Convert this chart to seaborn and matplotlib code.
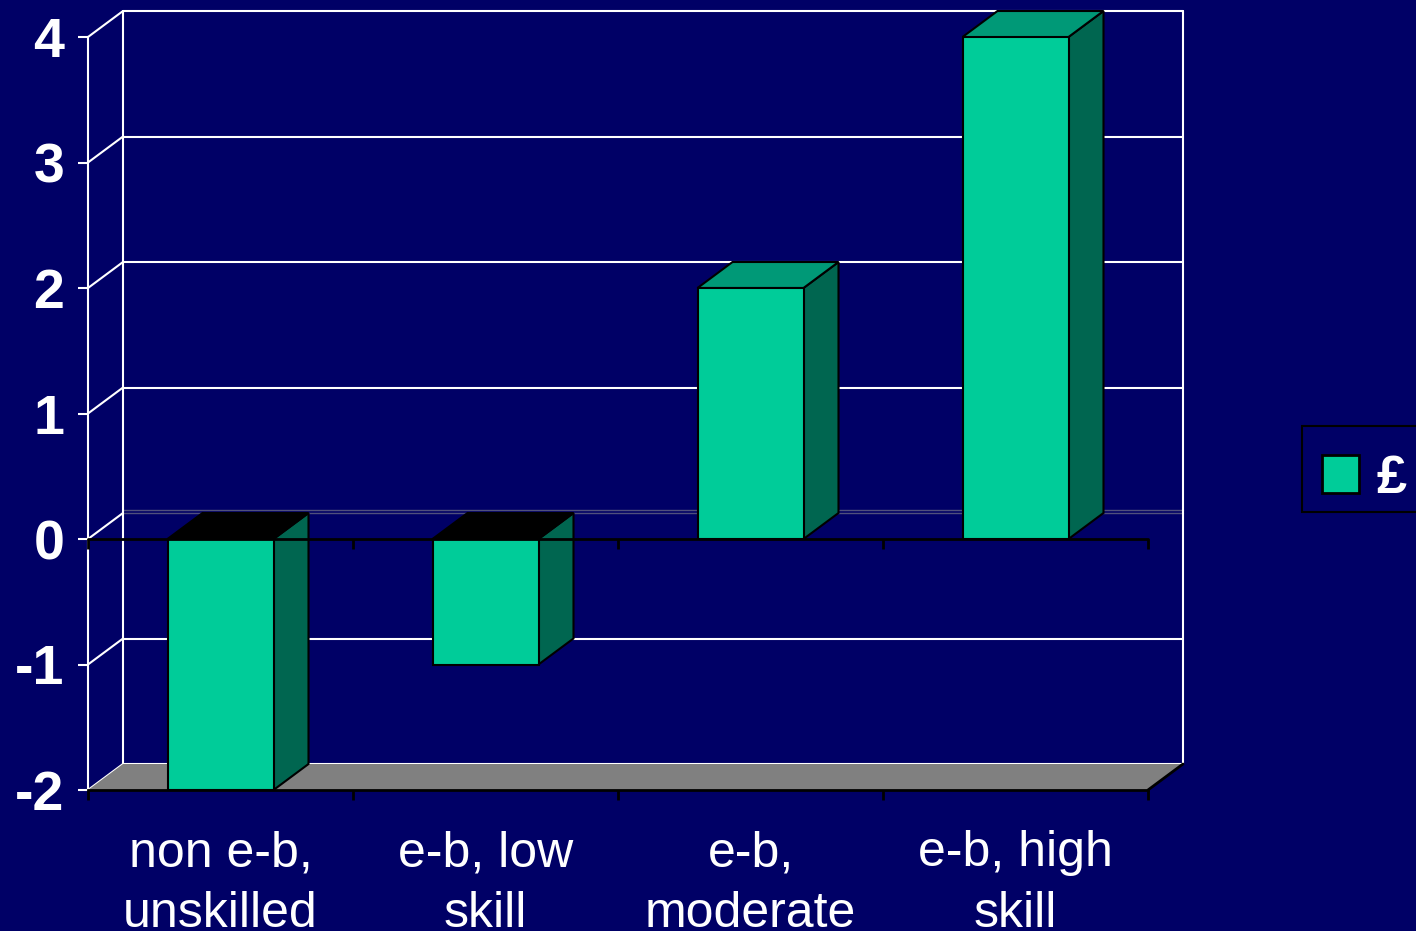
import matplotlib
matplotlib.use("Agg")
import matplotlib.pyplot as plt
import seaborn as sns
import pandas as pd
from matplotlib.patches import Polygon, Patch, Rectangle

# Data
categories = ["non e-b,\nunskilled", "e-b, low\nskill", "e-b,\nmoderate", "e-b, high\nskill"]
values = [-2, -1, 2, 4]
series_name = "£"
y_ticks = [-2, -1, 0, 1, 2, 3, 4]

# Colours
BG = "#000066"
FRONT = "#00CC99"
SIDE = "#006650"
TOP = "#009977"
FLOOR = "#808080"
ZERO_BACK = "#50507c"

sns.set_theme(style="white")
plt.rcParams["font.family"] = ["Liberation Sans", "DejaVu Sans"]

W, H, DPI = 1416, 931, 100
fig = plt.figure(figsize=(W / DPI, H / DPI), dpi=DPI, facecolor=BG)
ax = fig.add_axes([88 / W, (H - 790) / H, (1148 - 88) / W, (790 - 37) / H])
ax.patch.set_visible(False)

df = pd.DataFrame({"category": categories, "value": values})
sns.barplot(data=df, x="category", y="value", color=FRONT, saturation=1,
            width=0.4, edgecolor="black", linewidth=1.5, ax=ax, zorder=3)

xmin, xmax = -0.5, len(categories) - 0.5
ymin, ymax = min(y_ticks), max(y_ticks)
ax.set_xlim(xmin, xmax)
ax.set_ylim(ymin, ymax)

# depth offset of the 3-D box (data units)
DX = 35 / ((1148 - 88) / len(categories))
DY = 26 / ((790 - 37) / (ymax - ymin))

# back wall and left wall gridlines
for y in y_ticks:
    ax.plot([xmin, xmin + DX], [y, y + DY], color="white", lw=1.5,
            clip_on=False, zorder=0.5)
    if y == 0:
        for off in (0.0, 0.024):
            ax.plot([xmin + DX, xmax + DX], [y + DY + off, y + DY + off],
                    color=ZERO_BACK, lw=1.0, clip_on=False, zorder=0.5)
    else:
        ax.plot([xmin + DX, xmax + DX], [y + DY, y + DY], color="white",
                lw=1.5, clip_on=False, zorder=0.5)
for xv in (xmin + DX, xmax + DX):
    ax.plot([xv, xv], [ymin + DY, ymax + DY], color="white", lw=1.5,
            clip_on=False, zorder=0.5)

# floor
floor = Polygon([(xmin, ymin), (xmax, ymin), (xmax + DX, ymin + DY), (xmin + DX, ymin + DY)],
                closed=True, facecolor=FLOOR, edgecolor="none", zorder=1, clip_on=False)
ax.add_patch(floor)
ax.plot([xmax, xmax + DX], [ymin, ymin + DY], color="black", lw=2, clip_on=False, zorder=1.5)

# 3-D faces of each bar
for rect, v in zip(ax.patches[:len(values)], values):
    x0 = rect.get_x()
    x1 = x0 + rect.get_width()
    yb = min(rect.get_y(), rect.get_y() + rect.get_height())
    yt = max(rect.get_y(), rect.get_y() + rect.get_height())
    top_col = TOP if v > 0 else "black"
    side = Polygon([(x1, yb), (x1, yt), (x1 + DX, yt + DY), (x1 + DX, yb + DY)],
                   closed=True, facecolor=SIDE, edgecolor="black", lw=1.5,
                   zorder=3, clip_on=False, joinstyle="miter")
    top = Polygon([(x0, yt), (x1, yt), (x1 + DX, yt + DY), (x0 + DX, yt + DY)],
                  closed=True, facecolor=top_col, edgecolor="black", lw=1.5,
                  zorder=3, clip_on=False, joinstyle="miter")
    ax.add_patch(side)
    ax.add_patch(top)
    rect.set_zorder(3.2)

# zero line with its category-boundary ticks
bounds = [i - 0.5 for i in range(len(categories) + 1)]
ax.plot([xmin, xmax], [0, 0], color="black", lw=2, zorder=4, clip_on=False)
ax.vlines(bounds, 0, -0.08, color="black", lw=2, zorder=4, clip_on=False)

# spines
for s in ("top", "right"):
    ax.spines[s].set_visible(False)
ax.spines["left"].set_color("white")
ax.spines["left"].set_linewidth(1.5)
ax.spines["left"].set_zorder(0.6)
ax.spines["bottom"].set_color("black")
ax.spines["bottom"].set_linewidth(2)
ax.spines["bottom"].set_zorder(1.6)

# ticks
ax.set_yticks(y_ticks)
ax.set_yticklabels([str(t) for t in y_ticks], fontsize=40, fontweight="bold", color="white")
ax.tick_params(axis="y", which="major", left=True, direction="out", length=7,
               width=1.5, color="white", pad=10)
ax.set_xticks(range(len(categories)))
ax.set_xticklabels(categories, fontsize=36, color="white", linespacing=1.42)
ax.set_xticks(bounds, minor=True)
ax.tick_params(axis="x", which="major", bottom=True, length=0, pad=29)
ax.tick_params(axis="x", which="minor", bottom=True, direction="out", length=7,
               width=2, color="black")
ax.set_xlabel("")
ax.set_ylabel("")

# legend: frame drawn as a figure rectangle, entries placed inside it
frame = Rectangle((1302 / W, 1 - 512 / H), (W + 20 - 1302) / W, 86 / H,
                  transform=fig.transFigure, facecolor=BG, edgecolor="black",
                  linewidth=1.5, zorder=5)
fig.patches.append(frame)
handle = Patch(facecolor=FRONT, edgecolor="black", linewidth=2, label=series_name)
leg = fig.legend(handles=[handle], loc="center left",
                 bbox_to_anchor=(1322 / W, 1 - 479 / H), bbox_transform=fig.transFigure,
                 borderaxespad=0, frameon=False, borderpad=0,
                 handlelength=0.68, handleheight=0.68, handletextpad=0.33,
                 prop={"size": 39, "weight": "bold", "family": ["Liberation Sans", "DejaVu Sans"]})
leg.set_zorder(6)
for t in leg.get_texts():
    t.set_color("white")

fig.savefig("out.png", dpi=DPI, facecolor=BG)
